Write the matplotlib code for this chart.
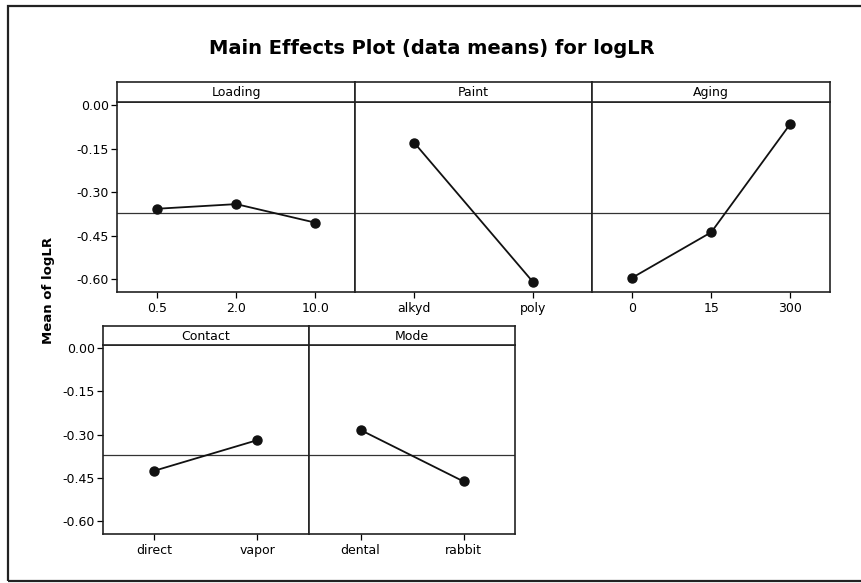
import matplotlib
matplotlib.use("Agg")
import matplotlib.pyplot as plt
from matplotlib.patches import Rectangle

W, H = 862, 583

# factor levels and means of logLR
loading_levels = ["0.5", "2.0", "10.0"]
loading_means  = [-0.357, -0.341, -0.405]
paint_levels   = ["alkyd", "poly"]
paint_means    = [-0.130, -0.610]
aging_levels   = ["0", "15", "300"]
aging_means    = [-0.595, -0.438, -0.064]
contact_levels = ["direct", "vapor"]
contact_means  = [-0.425, -0.319]
mode_levels    = ["dental", "rabbit"]
mode_means     = [-0.284, -0.462]
grand_mean     = -0.370
y_ticks        = [0.00, -0.15, -0.30, -0.45, -0.60]
YLIM           = (-0.645, 0.011)


def rect(left, top, right, bottom):
    # pixel box -> figure fraction [l, b, w, h]
    return [left / W, 1 - bottom / H, (right - left) / W, (bottom - top) / H]


def panel(fig, box, strip_h, name, levels, means, first):
    left, top, right, bottom = box
    ax = fig.add_axes(rect(left, top, right, bottom))
    xs = list(range(1, len(levels) + 1))
    ax.plot(xs, means, "-o", color="#111111", lw=1.3, markersize=6.5)
    ax.axhline(grand_mean, color="#333333", lw=0.9, zorder=0)
    ax.set_xlim(0.5, len(levels) + 0.5)
    ax.set_ylim(*YLIM)
    ax.set_xticks(xs)
    ax.set_xticklabels(levels, fontsize=9)
    ax.tick_params(axis="x", direction="out", length=4, width=0.9, pad=3)
    if first:
        ax.set_yticks(y_ticks)
        ax.set_yticklabels([f"{v:.2f}" for v in y_ticks], fontsize=9)
        ax.tick_params(axis="y", direction="out", length=4, width=0.9, pad=2)
    else:
        ax.set_yticks([])
    for s in ax.spines.values():
        s.set_linewidth(1.2)
        s.set_color("#222222")

    sax = fig.add_axes(rect(left, top - strip_h, right, top))
    sax.set_xticks([])
    sax.set_yticks([])
    for s in sax.spines.values():
        s.set_linewidth(1.2)
        s.set_color("#222222")
    sax.text(0.5, 0.45, name, ha="center", va="center", fontsize=9,
             transform=sax.transAxes)
    return ax


fig = plt.figure(figsize=(W / 100, H / 100), dpi=100)

# outer frame (right edge runs off the picture)
fig.patches.append(Rectangle((8 / W, 1 - 581 / H), 1.2, (581 - 6) / H,
                             transform=fig.transFigure, fill=False,
                             lw=1.6, edgecolor="#222222"))

top_w = (830 - 117.5) / 3
top_panels = [("Loading", loading_levels, loading_means),
              ("Paint", paint_levels, paint_means),
              ("Aging", aging_levels, aging_means)]
for i, (name, lv, mv) in enumerate(top_panels):
    l = 117.5 + i * top_w
    panel(fig, (l, 102, l + top_w, 292.3), 20, name, lv, mv, i == 0)

bot_w = (515 - 103) / 2
bot_panels = [("Contact", contact_levels, contact_means),
              ("Mode", mode_levels, mode_means)]
for i, (name, lv, mv) in enumerate(bot_panels):
    l = 103 + i * bot_w
    panel(fig, (l, 344.7, l + bot_w, 534.3), 19, name, lv, mv, i == 0)

fig.text(432 / W, 1 - 48 / H, "Main Effects Plot (data means) for logLR",
         ha="center", va="center", fontsize=14, fontweight="bold")
fig.text(49 / W, 1 - 290 / H, "Mean of logLR", ha="center", va="center",
         rotation=90, fontsize=9.5, fontweight="bold")

fig.savefig("out.png", dpi=100)
